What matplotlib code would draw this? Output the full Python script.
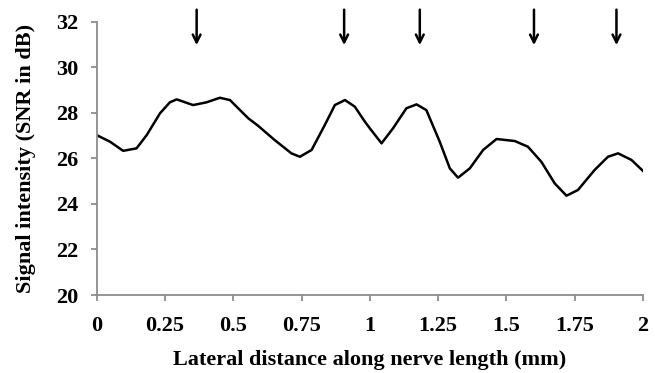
import numpy as np
import matplotlib
matplotlib.use("Agg")
import matplotlib.pyplot as plt

# values
distance = [0.0, 0.049, 0.097, 0.146, 0.183, 0.232, 0.268, 0.293, 0.353, 0.402,
            0.451, 0.488, 0.518, 0.555, 0.591, 0.652, 0.713, 0.744, 0.787, 0.835,
            0.872, 0.909, 0.945, 0.982, 1.0, 1.043, 1.085, 1.134, 1.171, 1.207,
            1.256, 1.293, 1.323, 1.366, 1.415, 1.464, 1.531, 1.579, 1.628, 1.677,
            1.72, 1.762, 1.823, 1.872, 1.909, 1.958, 2.0]
snr = [27.02, 26.73, 26.33, 26.44, 27.02, 27.98, 28.46, 28.59, 28.34, 28.46,
       28.66, 28.56, 28.2, 27.76, 27.43, 26.8, 26.22, 26.07, 26.37, 27.46,
       28.34, 28.56, 28.27, 27.61, 27.32, 26.66, 27.32, 28.2, 28.37, 28.12,
       26.73, 25.56, 25.15, 25.56, 26.37, 26.85, 26.76, 26.51, 25.85, 24.9,
       24.36, 24.61, 25.49, 26.07, 26.22, 25.93, 25.45]
arrow_x = [0.366, 0.906, 1.183, 1.601, 1.903]
xticks = [0, 0.25, 0.5, 0.75, 1, 1.25, 1.5, 1.75, 2]
xticklabels = ["0", "0.25", "0.5", "0.75", "1", "1.25", "1.5", "1.75", "2"]
yticks = [20, 22, 24, 26, 28, 30, 32]

plt.rcParams['font.family'] = ['Liberation Serif', 'DejaVu Serif']
plt.rcParams['font.weight'] = 'bold'

fig = plt.figure(figsize=(6.55, 3.73), dpi=100)
ax = fig.add_axes([0.1476, 0.2091, 0.834, 0.7327])

ax.plot(distance, snr, color="black", lw=1.8, solid_joinstyle="round")

for xa in arrow_x:
    ax.annotate("", xy=(xa, 30.85), xytext=(xa, 32.65),
                arrowprops=dict(arrowstyle="->", color="black", lw=1.8,
                                mutation_scale=14),
                annotation_clip=False)

ax.set_xlim(0, 2)
ax.set_ylim(20, 32)
ax.set_xticks(xticks)
ax.set_xticklabels(xticklabels)
ax.set_yticks(yticks)

for s in ["top", "right"]:
    ax.spines[s].set_visible(False)
for s in ["left", "bottom"]:
    ax.spines[s].set_color("#8c8c8c")
    ax.spines[s].set_linewidth(1.3)

ax.tick_params(axis="both", direction="out", color="#8c8c8c", width=1.3,
               length=4, labelsize=16)
ax.tick_params(axis="x", pad=11)
ax.tick_params(axis="y", pad=9)

ax.set_xlabel("Lateral distance along nerve length (mm)", fontsize=16,
              fontweight="bold", labelpad=10)
ax.set_ylabel("Signal intensity (SNR in dB)", fontsize=16,
              fontweight="bold", labelpad=15)

fig.savefig("out.png", dpi=100)
